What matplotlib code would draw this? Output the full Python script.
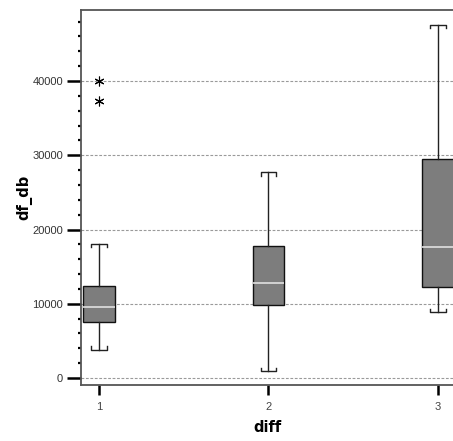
import matplotlib.pyplot as plt
from matplotlib.ticker import MultipleLocator

groups = [1, 2, 3]
whislo = [3800, 950, 8900]
q1 = [7600, 9800, 12300]
med = [9600, 12750, 17700]
q3 = [12400, 17800, 29450]
whishi = [18050, 27700, 47550]
fliers = [[40000, 37300], [], []]

stats = []
for i in range(len(groups)):
    stats.append(dict(whislo=whislo[i], q1=q1[i], med=med[i], q3=q3[i],
                      whishi=whishi[i], fliers=[], label=str(groups[i])))

fig = plt.figure(figsize=(4.53, 4.41), dpi=100)
ax = fig.add_axes([81/453, 56/441, 1 - 81/453, 375/441])

ax.bxp(stats, positions=groups, widths=0.185, patch_artist=True,
       showfliers=False, showcaps=False,
       boxprops=dict(facecolor='#7d7d7d', edgecolor='#111111', linewidth=1),
       medianprops=dict(color='#e0e0e0', linewidth=1.2),
       whiskerprops=dict(color='#222222', linewidth=1))

# bracket-shaped caps
cw = 0.045
tick = 450
for x, lo, hi in zip(groups, whislo, whishi):
    ax.plot([x - cw, x - cw, x + cw, x + cw], [hi - tick, hi, hi, hi - tick],
            color='#222222', lw=1, zorder=3)
    ax.plot([x - cw, x - cw, x + cw, x + cw], [lo + tick, lo, lo, lo + tick],
            color='#222222', lw=1, zorder=3)

for x, fl in zip(groups, fliers):
    if fl:
        ax.plot([x] * len(fl), fl, linestyle='none', marker=(6, 2, 0),
                markersize=7, color='black', markeredgewidth=0.8)

ax.set_xlim(0.894, 3.0885)
ax.set_ylim(-940, 49560)
ax.set_xticks(groups)
ax.set_xticklabels([str(g) for g in groups])
ax.yaxis.set_major_locator(MultipleLocator(10000))
ax.yaxis.set_minor_locator(MultipleLocator(2000))

ax.grid(axis='y', which='major', linestyle=(0, (2.5, 1.5)), color='#9a9a9a', linewidth=0.8)
ax.set_axisbelow(True)

ax.tick_params(axis='y', which='major', length=10, width=1.8, color='black',
               labelsize=8, labelcolor='#333333', pad=3)
ax.tick_params(axis='y', which='minor', length=2.5, width=1.6, color='black')
ax.tick_params(axis='x', which='major', length=7, width=1.8, color='black',
               labelsize=8, labelcolor='#444444', pad=5)
for lab in ax.get_xticklabels() + ax.get_yticklabels():
    lab.set_family('Liberation Sans')

for side in ['left', 'bottom', 'top']:
    ax.spines[side].set_color('#555555')
    ax.spines[side].set_linewidth(1.3)
ax.spines['right'].set_visible(False)

ax.set_xlabel('diff', fontsize=10.5, fontweight='bold', labelpad=6)
ax.set_ylabel('df_db', fontsize=10.5, fontweight='bold', labelpad=0)

fig.savefig('out.png', dpi=100)
